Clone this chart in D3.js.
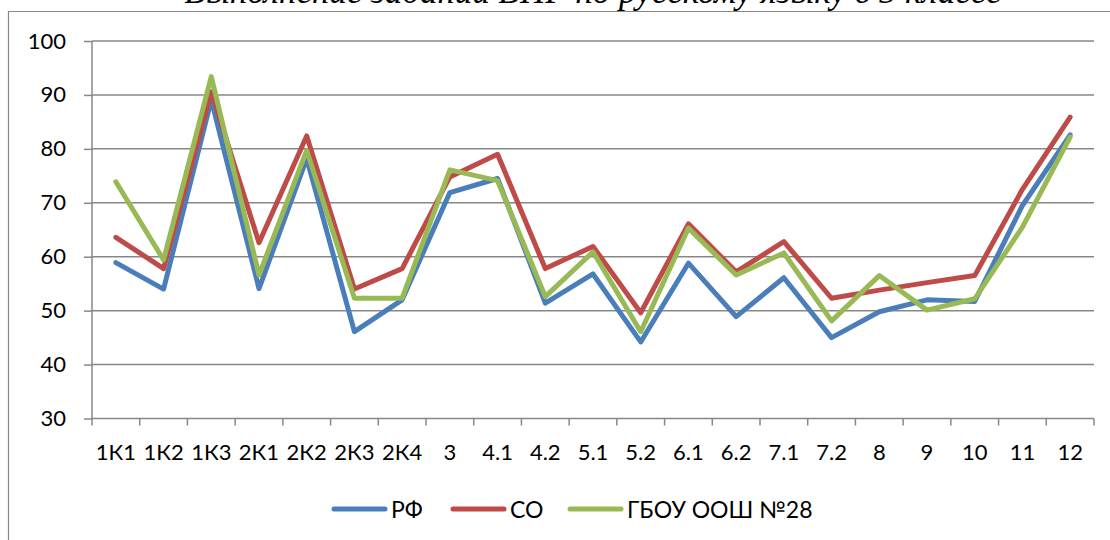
<!DOCTYPE html>
<html>
<head>
<meta charset="utf-8">
<script src="https://d3js.org/d3.v7.min.js"></script>
<style>
    body { margin: 0; background: #fff; }
    svg { display: block; }
</style>
</head>
<body>
<svg id="chart"></svg>
<script>
var categories = ['1К1', '1К2', '1К3', '2К1', '2К2', '2К3', '2К4', '3', '4.1', '4.2',
    '5.1', '5.2', '6.1', '6.2', '7.1', '7.2', '8', '9', '10', '11', '12'];
var rf  = [58.9, 54.0, 89.1, 54.1, 78.2, 46.1, 52.0, 71.9, 74.5, 51.4,
    56.8, 44.2, 58.8, 48.9, 56.1, 45.0, 49.8, 52.0, 51.7, 69.5, 82.6];
var so  = [63.6, 57.8, 90.6, 62.6, 82.4, 54.0, 57.8, 74.8, 79.0, 57.8,
    61.9, 49.6, 66.1, 57.2, 62.8, 52.3, 53.8, 55.2, 56.5, 72.5, 85.9];
var sch = [73.9, 59.4, 93.4, 56.6, 79.7, 52.3, 52.3, 76.1, 74.1, 52.6,
    60.9, 46.1, 65.3, 56.6, 60.7, 48.1, 56.5, 50.1, 52.2, 65.5, 82.2];
var yTicks = [30, 40, 50, 60, 70, 80, 90, 100];
var seriesNames = ['РФ', 'СО', 'ГБОУ ООШ №28'];
var title = 'Выполнение заданий ВПР по русскому языку в 5 классе';

var series = [
    { name: seriesNames[0], values: rf,  color: '#4a7ebb' },
    { name: seriesNames[1], values: so,  color: '#be4b48' },
    { name: seriesNames[2], values: sch, color: '#98b954' }
];

var width = 1110;
var height = 540;
var plotLeft = 92, plotRight = 1094, plotTop = 41, plotBottom = 418.5;
var gridColor = '#878787';
var font = 'Lato, "Open Sans", sans-serif';

var svg = d3.select('#chart')
    .attr('width', width)
    .attr('height', height);

// outer frame (only top and left edges are in the picture)
svg.append('path')
    .attr('d', 'M8.5,' + height + 'V11.5H' + width)
    .attr('fill', 'none')
    .attr('stroke', gridColor)
    .attr('stroke-width', 1.2);

svg.append('text')
    .attr('x', 593)
    .attr('y', 3)
    .attr('text-anchor', 'middle')
    .attr('font-family', '"Liberation Serif", "Times New Roman", serif')
    .attr('font-style', 'italic')
    .attr('font-size', 35)
    .attr('fill', '#000')
    .text(title);

var xScale = d3.scaleBand()
    .domain(categories)
    .range([plotLeft, plotRight])
    .paddingInner(0)
    .paddingOuter(0);

var yScale = d3.scaleLinear()
    .domain([30, 100])
    .range([plotBottom, plotTop]);

var xMid = d => xScale(d) + xScale.bandwidth() / 2;

// y axis with gridlines
var yAxis = d3.axisLeft(yScale)
    .tickValues(yTicks)
    .tickSize(8)
    .tickSizeOuter(0)
    .tickPadding(18);

var gy = svg.append('g')
    .attr('transform', 'translate(' + plotLeft + ',0)')
    .call(yAxis);
gy.select('.domain').remove();
gy.selectAll('.tick line')
    .attr('stroke', gridColor)
    .attr('stroke-width', 1.5);
gy.selectAll('.tick text')
    .attr('font-family', font)
    .attr('font-size', 22)
    .attr('fill', '#000');

svg.append('g')
    .selectAll('line')
    .data(yTicks)
    .enter()
    .append('line')
    .attr('x1', plotLeft)
    .attr('x2', plotRight)
    .attr('y1', d => yScale(d))
    .attr('y2', d => yScale(d))
    .attr('stroke', gridColor)
    .attr('stroke-width', 1.5);

// vertical axis line, running down past the x axis
svg.append('line')
    .attr('x1', plotLeft)
    .attr('x2', plotLeft)
    .attr('y1', plotTop)
    .attr('y2', plotBottom + 7)
    .attr('stroke', gridColor)
    .attr('stroke-width', 1.5);

// x axis: ticks on category boundaries, labels in the middle
svg.append('g')
    .selectAll('line')
    .data(categories.slice(1).concat(['__end']))
    .enter()
    .append('line')
    .attr('x1', d => d === '__end' ? plotRight : xScale(d))
    .attr('x2', d => d === '__end' ? plotRight : xScale(d))
    .attr('y1', plotBottom)
    .attr('y2', plotBottom + 7)
    .attr('stroke', gridColor)
    .attr('stroke-width', 1.5);

svg.append('g')
    .selectAll('text')
    .data(categories)
    .enter()
    .append('text')
    .attr('x', d => xMid(d))
    .attr('y', 460)
    .attr('text-anchor', 'middle')
    .attr('font-family', font)
    .attr('font-size', 22)
    .attr('fill', '#000')
    .text(d => d);

// series lines
var line = d3.line()
    .x((d, i) => xMid(categories[i]))
    .y(d => yScale(d));

svg.append('g')
    .selectAll('path')
    .data(series)
    .enter()
    .append('path')
    .attr('d', d => line(d.values))
    .attr('fill', 'none')
    .attr('stroke', d => d.color)
    .attr('stroke-width', 5)
    .attr('stroke-linejoin', 'round')
    .attr('stroke-linecap', 'round');

// legend
var legendX = [332, 451, 568];
var legend = svg.append('g')
    .selectAll('g')
    .data(series)
    .enter()
    .append('g')
    .attr('transform', (d, i) => 'translate(' + legendX[i] + ',509)');

legend.append('line')
    .attr('x1', 2)
    .attr('x2', 53)
    .attr('stroke', d => d.color)
    .attr('stroke-width', 5)
    .attr('stroke-linecap', 'round');

legend.append('text')
    .attr('x', 59)
    .attr('y', 9)
    .attr('font-family', font)
    .attr('font-size', 23)
    .attr('fill', '#000')
    .text(d => d.name);
</script>
</body>
</html>
